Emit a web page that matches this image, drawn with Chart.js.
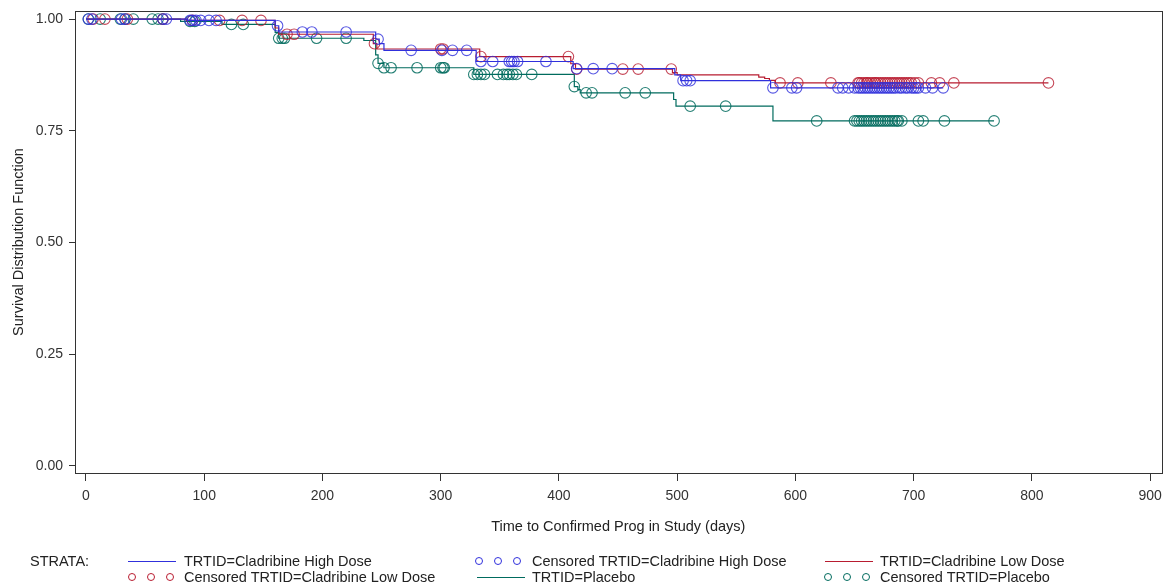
<!DOCTYPE html>
<html>
<head>
<meta charset="utf-8">
<script src="https://cdn.jsdelivr.net/npm/chart.js@4/dist/chart.umd.min.js"></script>
<style>
html, body { margin: 0; padding: 0; background: #fff; }
#wrap { position: relative; width: 1168px; height: 586px; }
#legend { position: absolute; left: 0; top: 0; width: 1168px; height: 586px; pointer-events: none;
  font-family: "Liberation Sans", Arial, sans-serif; font-size: 14.5px; color: #222; }
.txt { position: absolute; white-space: nowrap; line-height: 16px; }
.ln { position: absolute; height: 0; width: 48px; border-top: 1.5px solid transparent; }
.ci { position: absolute; width: 6px; height: 6px; border: 1.2px solid; border-radius: 50%; }
</style>
</head>
<body>
<div id="wrap">
  <canvas id="km" width="1168" height="586"></canvas>
  <div id="legend"></div>
</div>
<script>
const xTicks = [0, 100, 200, 300, 400, 500, 600, 700, 800, 900];
const yTicks = [0, 0.25, 0.5, 0.75, 1];

// step curves: event time, survival after that time
const highTimes = [0, 86, 160, 163, 245, 248, 252, 330, 412, 498, 503, 579, 725];
const highSurv  = [1, 0.997, 0.985, 0.971, 0.955, 0.945, 0.930, 0.905, 0.889, 0.875, 0.862, 0.846, 0.846];

const lowTimes = [0, 85, 160, 163, 243, 246, 333, 410, 414, 496, 500, 569, 574, 578, 583, 814];
const lowSurv  = [1, 0.997, 0.980, 0.966, 0.945, 0.933, 0.916, 0.900, 0.888, 0.880, 0.875, 0.870, 0.867, 0.863, 0.857, 0.857];

const plaTimes = [0, 80, 115, 160, 163, 235, 245, 247, 252, 328, 413, 416, 418, 497, 499, 581, 768];
const plaSurv  = [1, 0.995, 0.988, 0.970, 0.957, 0.952, 0.920, 0.901, 0.891, 0.876, 0.849, 0.842, 0.835, 0.820, 0.805, 0.772, 0.772];

// censored times
const highCens = [2, 5, 30, 33, 65, 68, 88, 90, 93, 97, 104, 110, 162, 183, 191, 220, 247, 275, 301, 310, 322,
  334, 344, 358, 360, 362, 365, 389, 415, 429, 445, 505, 508, 511, 581, 597, 601, 636, 640, 645, 650,
  653, 655, 657, 659, 661, 663, 665, 667, 669, 671, 673, 675, 677, 679, 681, 683, 685, 688, 690, 693,
  695, 698, 700, 702, 704, 710, 716, 725];
const lowCens = [6, 16, 35, 65, 90, 113, 132, 148, 170, 176, 244, 300, 302, 334, 408, 415, 454, 467, 495,
  587, 602, 630, 653, 654, 656, 658, 660, 661, 663, 665, 667, 668, 670, 672, 674, 676, 678, 680, 682,
  684, 686, 688, 690, 692, 694, 696, 698, 701, 704, 715, 722, 734, 814];
const plaCens = [2, 12, 29, 33, 40, 56, 61, 65, 88, 92, 123, 133, 163, 166, 168, 195, 220, 247, 252, 258,
  280, 300, 302, 303, 328, 331, 334, 337, 348, 353, 356, 358, 361, 364, 377, 413, 423, 428, 456, 473,
  511, 541, 618, 650, 652, 654, 656, 658, 660, 662, 664, 666, 668, 670, 672, 674, 676, 678, 680, 682,
  684, 686, 687, 690, 704, 708, 726, 768];

const blue = '#3030dc', red = '#b81c30', green = '#006b5e';
const FONT = '"Liberation Sans", Arial, sans-serif';

function survAt(times, surv, t) {
  let s = surv[0];
  for (let i = 0; i < times.length; i++) if (times[i] <= t) s = surv[i];
  return s;
}
const curve = (times, surv) => times.map((t, i) => ({ x: t, y: surv[i] }));
const cens = (c, times, surv) => c.map(t => ({ x: t, y: survAt(times, surv, t) }));

function lineSet(label, data, color) {
  return { type: 'line', label, data, borderColor: color, borderWidth: 1.2, stepped: true,
    pointRadius: 0, fill: false, tension: 0 };
}
function censSet(label, data, color) {
  return { type: 'scatter', label, data, borderColor: color, backgroundColor: 'rgba(0,0,0,0)',
    pointStyle: 'circle', pointRadius: 5.3, pointBorderWidth: 1.1, showLine: false };
}

// full box round the plot area
const frame = {
  id: 'frame',
  afterDatasetsDraw(chart) {
    const { ctx, chartArea: a } = chart;
    ctx.save();
    ctx.strokeStyle = '#333';
    ctx.lineWidth = 1;
    ctx.strokeRect(Math.round(a.left) + 0.5, Math.round(a.top) + 0.5,
      Math.round(a.right - a.left), Math.round(a.bottom - a.top));
    ctx.restore();
  }
};

new Chart(document.getElementById('km'), {
  data: {
    datasets: [
      lineSet('TRTID=Cladribine High Dose', curve(highTimes, highSurv), blue),
      censSet('Censored TRTID=Cladribine High Dose', cens(highCens, highTimes, highSurv), 'rgba(48,48,220,0.8)'),
      lineSet('TRTID=Cladribine Low Dose', curve(lowTimes, lowSurv), red),
      censSet('Censored TRTID=Cladribine Low Dose', cens(lowCens, lowTimes, lowSurv), 'rgba(184,28,48,0.8)'),
      lineSet('TRTID=Placebo', curve(plaTimes, plaSurv), green),
      censSet('Censored TRTID=Placebo', cens(plaCens, plaTimes, plaSurv), 'rgba(0,107,94,0.85)')
    ]
  },
  options: {
    responsive: false,
    animation: false,
    layout: { padding: { left: 0, right: 2, top: 11, bottom: 48 } },
    plugins: { legend: { display: false }, tooltip: { enabled: false } },
    scales: {
      x: {
        type: 'linear', min: -9.3, max: 909.7,
        afterBuildTicks: s => { s.ticks = xTicks.map(v => ({ value: v })); },
        afterFit: s => { s.height = 65; s.paddingLeft = 0; s.paddingRight = 0; },
        grid: { drawOnChartArea: false, drawTicks: true, tickLength: 8, color: '#333' },
        border: { display: true, color: '#333' },
        ticks: { padding: 7, color: '#333', autoSkip: false, maxRotation: 0,
          font: { family: FONT, size: 14 }, callback: v => String(v) },
        title: { display: true, text: 'Time to Confirmed Prog in Study (days)', color: '#222',
          font: { family: FONT, size: 14.5 }, padding: { top: 0, bottom: 2 } }
      },
      y: {
        type: 'linear', min: -0.0157, max: 1.018,
        afterBuildTicks: s => { s.ticks = yTicks.map(v => ({ value: v })); },
        afterFit: s => { s.width = 75; s.paddingTop = 0; s.paddingBottom = 0; },
        grid: { drawOnChartArea: false, drawTicks: true, tickLength: 6, color: '#333' },
        border: { display: true, color: '#333' },
        ticks: { padding: 6, color: '#333', font: { family: FONT, size: 14 },
          callback: v => Number(v).toFixed(2) },
        title: { display: true, text: 'Survival Distribution Function', color: '#222',
          font: { family: FONT, size: 14.5 }, padding: { top: 10, bottom: 0 } }
      }
    }
  },
  plugins: [frame]
});

// legend (SAS style, 3 columns x 2 rows)
const legendItems = [
  { kind: 'line', color: blue, text: 'TRTID=Cladribine High Dose', x: 128, tx: 184, row: 0 },
  { kind: 'circ', color: blue, text: 'Censored TRTID=Cladribine High Dose', x: 475, tx: 532, row: 0 },
  { kind: 'line', color: red, text: 'TRTID=Cladribine Low Dose', x: 825, tx: 880, row: 0 },
  { kind: 'circ', color: red, text: 'Censored TRTID=Cladribine Low Dose', x: 128, tx: 184, row: 1 },
  { kind: 'line', color: green, text: 'TRTID=Placebo', x: 477, tx: 532, row: 1 },
  { kind: 'circ', color: green, text: 'Censored TRTID=Placebo', x: 824, tx: 880, row: 1 }
];
const rowY = [561, 577];
const lg = document.getElementById('legend');
function add(cls, style, text) {
  const d = document.createElement('div');
  d.className = cls;
  Object.assign(d.style, style);
  if (text) d.textContent = text;
  lg.appendChild(d);
}
add('txt', { left: '30px', top: (rowY[0] - 8) + 'px' }, 'STRATA:');
legendItems.forEach(it => {
  const cy = rowY[it.row];
  if (it.kind === 'line') {
    add('ln', { left: it.x + 'px', top: cy + 'px', borderTopColor: it.color });
  } else {
    [0, 19, 38].forEach(dx => add('ci', { left: (it.x + dx) + 'px', top: (cy - 4) + 'px', borderColor: it.color }));
  }
  add('txt', { left: it.tx + 'px', top: (cy - 8) + 'px' }, it.text);
});
</script>
</body>
</html>
